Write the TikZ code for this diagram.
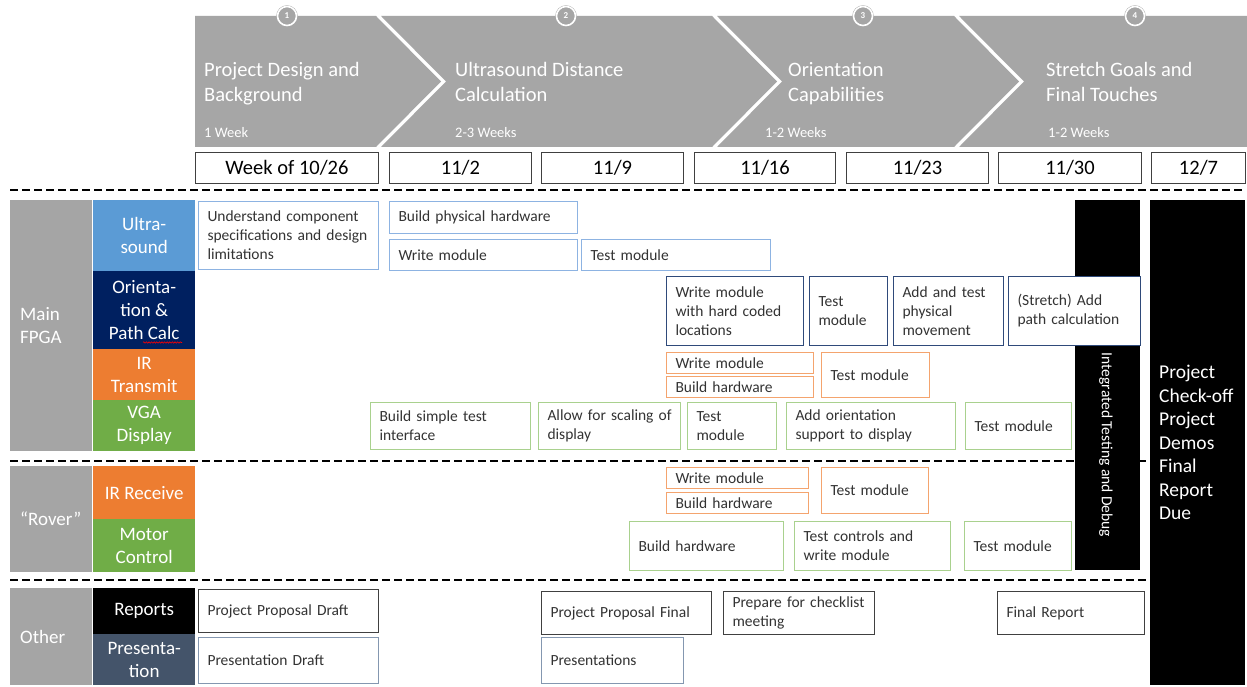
\documentclass[tikz,border=0pt]{standalone}
\usepackage{fontspec}
\setmainfont{Carlito}
\usetikzlibrary{decorations.pathmorphing}
\definecolor{chevgray}{HTML}{A6A6A6}
\definecolor{lblgray}{HTML}{A5A5A5}
\definecolor{usblue}{HTML}{5B9BD5}
\definecolor{navy}{HTML}{002060}
\definecolor{orng}{HTML}{ED7D31}
\definecolor{grn}{HTML}{70AD47}
\definecolor{slate}{HTML}{44546A}
\definecolor{bBlue}{HTML}{8DB3E2}
\definecolor{bNavy}{HTML}{2F4A7A}
\definecolor{bOrange}{HTML}{F4A46E}
\definecolor{bGreen}{HTML}{A9D18E}
\definecolor{bDark}{HTML}{404040}
\definecolor{bSlate}{HTML}{8497B0}
\newcommand\tbox[7]{\pgfmathsetmacro\tbw{#5-18}%
  \node[task,draw=#2,minimum width=#5pt,minimum height=#6pt,text width=\tbw pt] (#1) at (#3,#4) {#7};}
\newcommand\wbox[4]{\node[week,minimum width=#4pt] (#1) at (#3,152) {#2};}
\begin{document}
\begin{tikzpicture}[x=1pt,y=-1pt,
  chev/.style={fill=chevgray},
  chevt/.style={anchor=west,align=left,text=white,inner sep=0pt,font=\fontsize{20.5}{25}\selectfont},
  chevs/.style={anchor=west,text=white,inner sep=0pt,font=\fontsize{14.5}{17}\selectfont},
  num/.style={circle,fill=chevgray,draw=chevgray,double=white,double distance=1.6pt,minimum size=19pt,inner sep=0pt,text=white,font=\fontsize{9}{10}\selectfont\bfseries},
  week/.style={draw=bDark,line width=1pt,anchor=north west,inner sep=0pt,minimum height=31pt,font=\fontsize{20.5}{24}\selectfont},
  task/.style={fill=white,line width=1pt,anchor=north west,align=left,inner xsep=9pt,inner ysep=0pt,text=black!80,font=\fontsize{15.5}{19}\selectfont},
  cell/.style={anchor=north west,inner sep=0pt,minimum width=102pt,text=white,align=center,font=\fontsize{19}{23}\selectfont},
  grp/.style={anchor=north west,fill=lblgray,inner xsep=10pt,inner ysep=0pt,text width=62pt,align=left,text=white,font=\fontsize{19}{23}\selectfont},
  sep/.style={dash pattern=on 7.5pt off 4.5pt,line width=2pt,black},
  bar/.style={fill=black,anchor=north west,inner sep=0pt}
]
\useasboundingbox[fill=white] (0,0) rectangle (1247,687);
% chevrons
\fill[chev] (195,16) -- (376,16) -- (441,81.5) -- (376,147) -- (195,147) -- cycle;
\fill[chev] (381,16) -- (712,16) -- (777,81.5) -- (712,147) -- (381,147) -- (446,81.5) -- cycle;
\fill[chev] (717,16) -- (954,16) -- (1019,81.5) -- (954,147) -- (717,147) -- (782,81.5) -- cycle;
\fill[chev] (959,16) -- (1247,16) -- (1247,147) -- (959,147) -- (1024,81.5) -- cycle;
\node[num] (n1) at (287,16) {1};
\node[num] (n2) at (566,16) {2};
\node[num] (n3) at (863,16) {3};
\node[num] (n4) at (1135,16) {4};
\node[chevt] (t1) at (204,84) {Project Design and\\Background};
\node[chevt] (t2) at (455,82) {Ultrasound Distance\\Calculation};
\node[chevt] (t3) at (788,84) {Orientation\\Capabilities};
\node[chevt] (t4) at (1046,82) {Stretch Goals and\\Final Touches};
\node[chevs] (d1) at (204,133) {1 Week};
\node[chevs] (d2) at (455,133) {2-3 Weeks};
\node[chevs] (d3) at (765,133) {1-2 Weeks};
\node[chevs] (d4) at (1048,133) {1-2 Weeks};
% weeks
\wbox{w1}{Week of 10/26}{195}{183}
\wbox{w2}{11/2}{389}{142}
\wbox{w3}{11/9}{541}{142}
\wbox{w4}{11/16}{694}{141}
\wbox{w5}{11/23}{846}{142}
\wbox{w6}{11/30}{998}{143}
\wbox{w7}{12/7}{1151}{94}
% separators
\draw[sep] (10,190) -- (1245,190);
\draw[sep] (10,461) -- (1245,461);
\draw[sep] (10,580) -- (1245,580);
% left groups
\node[grp,minimum height=251pt] (gMain) at (10,200) {Main\\FPGA};
\node[grp,minimum height=106pt] (gRov) at (10,466) {\mbox{“Rover”}};
\node[grp,minimum height=97pt] (gOth) at (10,588) {Other};
\node[cell,fill=usblue,minimum height=71pt] (cUS) at (93,200) {Ultra-\\sound};
\node[cell,fill=navy,minimum height=78pt] (cOR) at (93,271) {Orienta-\\tion \&\\Path Calc};
\node[cell,fill=orng,minimum height=51pt] (cIR) at (93,349) {IR\\Transmit};
\node[cell,fill=grn,minimum height=51pt] (cVG) at (93,400) {VGA\\Display};
\node[cell,fill=orng,minimum height=53pt] (cRX) at (93,466) {IR Receive};
\node[cell,fill=grn,minimum height=53pt] (cMC) at (93,519) {Motor\\Control};
\node[cell,fill=black,minimum height=46pt] (cRP) at (93,588) {\raisebox{-2pt}{Reports}};
\node[cell,fill=slate,minimum height=51pt] (cPR) at (93,634) {Presenta-\\tion};
\draw[red,line width=0.6pt,decorate,decoration={snake,amplitude=0.7pt,segment length=2.6pt}] (143,342.5) -- (182,342.5);
% black bars
\node[bar,minimum width=65pt,minimum height=370pt] (integ) at (1075,200) {};
\node[bar,minimum width=95pt,minimum height=485pt] (final) at (1150,200) {};
\node[rotate=-90,text=white,inner sep=0pt,font=\fontsize{15.5}{19}\selectfont] (integt) at (1106,445) {Integrated Testing and Debug};
\node[anchor=west,align=left,text=white,inner sep=0pt,font=\fontsize{19.5}{23.5}\selectfont] (finalt) at (1159,442.5) {Project\\Check-off\\Project\\Demos\\Final\\Report\\Due};
% ultrasound
\tbox{us1}{bBlue}{198}{201}{180}{68}{\mbox{Understand component}\\\mbox{specifications and design}\\limitations}
\tbox{us2}{bBlue}{389}{201}{188}{32}{Build physical hardware}
\tbox{us3}{bBlue}{389}{239}{188}{31}{Write module}
\tbox{us4}{bBlue}{581}{239}{189}{31}{Test module}
% orientation
\tbox{or1}{bNavy}{666}{276}{137}{69}{Write module\\\mbox{with hard coded}\\locations}
\tbox{or2}{bNavy}{809}{276}{78}{69}{Test\\module}
\tbox{or3}{bNavy}{893}{276}{110}{69}{\mbox{Add and test}\\physical\\movement}
\tbox{or4}{bNavy}{1008}{276}{132}{69}{(Stretch) Add\\\mbox{path calculation}}
% IR transmit
\tbox{ir1}{bOrange}{666}{352}{147}{21}{Write module}
\tbox{ir2}{bOrange}{666}{376}{147}{21}{Build hardware}
\tbox{ir3}{bOrange}{821}{352}{108}{45}{Test module}
% VGA
\tbox{vg1}{bGreen}{370}{402}{160}{47}{\mbox{Build simple test}\\interface}
\tbox{vg2}{bGreen}{538}{402}{142}{47}{\mbox{Allow for scaling of}\\display}
\tbox{vg3}{bGreen}{687}{402}{89}{47}{Test\\module}
\tbox{vg4}{bGreen}{786}{402}{169}{47}{Add orientation\\\mbox{support to display}}
\tbox{vg5}{bGreen}{965}{402}{106}{47}{Test module}
% rover IR
\tbox{rr1}{bOrange}{666}{467}{142}{21}{Write module}
\tbox{rr2}{bOrange}{666}{492}{142}{21}{Build hardware}
\tbox{rr3}{bOrange}{821}{467}{107}{46}{Test module}
% motor
\tbox{mc1}{bGreen}{629}{521}{154}{49}{Build hardware}
\tbox{mc2}{bGreen}{794}{521}{156}{49}{\mbox{Test controls and}\\write module}
\tbox{mc3}{bGreen}{964}{521}{107}{49}{Test module}
% reports
\tbox{rp1}{bDark}{198}{589}{180}{43}{\mbox{Project Proposal Draft}}
\tbox{rp2}{bDark}{541}{591}{170}{43}{\mbox{Project Proposal Final}}
\tbox{rp3}{bDark}{723}{591}{151}{43}{\mbox{Prepare for checklist}\\meeting}
\tbox{rp4}{bDark}{997}{591}{147}{43}{Final Report}
% presentation
\tbox{pr1}{bSlate}{198}{637}{180}{46}{Presentation Draft}
\tbox{pr2}{bSlate}{541}{637}{142}{46}{Presentations}
\end{tikzpicture}
\end{document}
